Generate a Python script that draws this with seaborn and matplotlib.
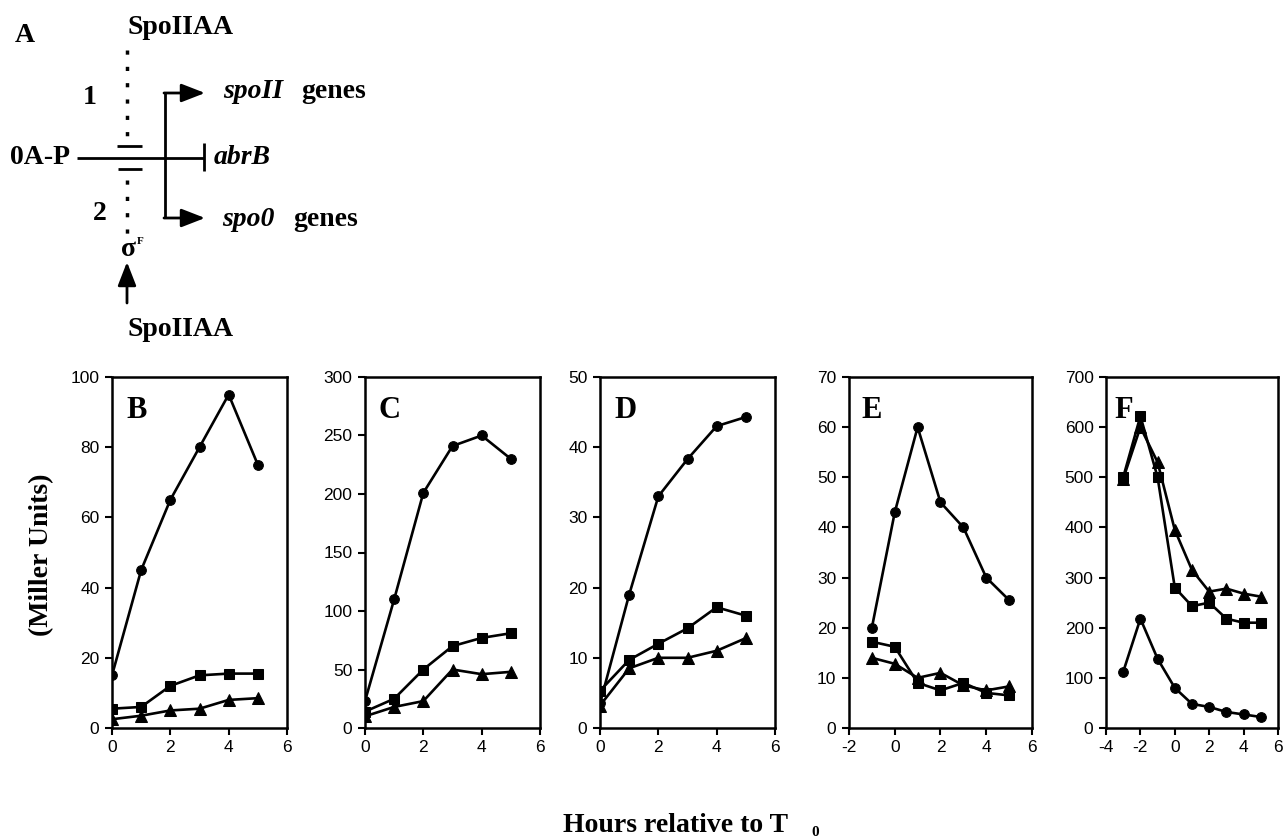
import numpy as np
import matplotlib
matplotlib.use("Agg")
import matplotlib.pyplot as plt
import seaborn as sns

# time points (hours relative to T0)
hours = [0, 1, 2, 3, 4, 5]
hours_e = [-1, 0, 1, 2, 3, 4, 5]
hours_f = [-3, -2, -1, 0, 1, 2, 3, 4, 5]

# panel B
b_circles = [15, 45, 65, 80, 95, 75]
b_squares = [5.5, 6, 12, 15, 15.5, 15.5]
b_triangles = [2.5, 3.5, 5, 5.5, 8, 8.5]

# panel C
c_circles = [23, 110, 201, 241, 250, 230]
c_squares = [14, 25, 50, 70, 77, 81]
c_triangles = [10, 18, 23, 50, 46, 48]

# panel D
d_circles = [3.5, 19, 33, 38.3, 43, 44.3]
d_squares = [5.3, 9.7, 12, 14.2, 17.2, 16]
d_triangles = [3.2, 8.5, 10, 10, 11, 12.8]

# panel E
e_circles = [20, 43, 60, 45, 40, 30, 25.5]
e_squares = [17.2, 16.2, 9, 7.5, 9, 7, 6.5]
e_triangles = [14, 12.8, 10, 11, 8.5, 7.5, 8.3]

# panel F
f_circles = [112, 218, 138, 80, 48, 42, 32, 27, 22]
f_squares = [500, 622, 500, 280, 243, 250, 218, 210, 210]
f_triangles = [497, 600, 530, 395, 315, 272, 278, 268, 262]

sns.set_style("ticks")
plt.rcParams['axes.unicode_minus'] = False
plt.rcParams['font.family'] = ['Liberation Sans', 'DejaVu Sans']
for key in ['text.color', 'axes.labelcolor', 'xtick.color', 'ytick.color', 'axes.edgecolor']:
    plt.rcParams[key] = 'black'

W, H = 1286, 840
fig = plt.figure(figsize=(W / 100, H / 100), dpi=100)
serif = ['Liberation Serif', 'DejaVu Serif']


def px_rect(left, right, top, bottom):
    return [left / W, 1 - bottom / H, (right - left) / W, (bottom - top) / H]


def draw_panel(rect, letter, x, circles, squares, triangles, ymax, ystep, xlim, lx=0.08):
    ax = fig.add_axes(rect)
    for y, m, ms in [(circles, 'o', 7), (squares, 's', 7), (triangles, '^', 8.5)]:
        sns.lineplot(x=x, y=y, ax=ax, color='black', marker=m, markersize=ms,
                     markeredgecolor='black', linewidth=1.9)
    ax.set_xlim(*xlim)
    ax.set_ylim(0, ymax)
    ax.set_xticks(np.arange(xlim[0], xlim[1] + 1, 2))
    ax.set_yticks(np.arange(0, ymax + 1, ystep))
    ax.tick_params(direction='out', length=5, width=1.5, labelsize=12.5, pad=4)
    for s in ax.spines.values():
        s.set_visible(True)
        s.set_linewidth(1.8)
    ax.text(lx, 0.945, letter, transform=ax.transAxes, fontsize=22,
            family=serif, weight='bold', va='top', ha='left')
    return ax


draw_panel(px_rect(112, 287, 377, 728), 'B', hours, b_circles, b_squares, b_triangles, 100, 20, (0, 6))
draw_panel(px_rect(365, 540, 377, 728), 'C', hours, c_circles, c_squares, c_triangles, 300, 50, (0, 6))
draw_panel(px_rect(600, 775, 377, 728), 'D', hours, d_circles, d_squares, d_triangles, 50, 10, (0, 6))
draw_panel(px_rect(849, 1032, 377, 728), 'E', hours_e, e_circles, e_squares, e_triangles, 70, 10, (-2, 6), lx=0.07)
draw_panel(px_rect(1106, 1278, 377, 728), 'F', hours_f, f_circles, f_squares, f_triangles, 700, 100, (-4, 6), lx=0.05)

# shared labels
fig.text(42 / W, 1 - 555 / H, '(Miller Units)', rotation=90, fontsize=20,
         family=serif, weight='bold', ha='center', va='center')
fig.text(675 / W, 1 - 825 / H, 'Hours relative to T', fontsize=20,
         family=serif, weight='bold', ha='center', va='center')
fig.text(815 / W, 1 - 832 / H, '0', fontsize=11, family=serif, weight='bold',
         ha='center', va='center')

# panel A: regulatory diagram drawn in pixel space
ax0 = fig.add_axes([0, 0, 1, 1], zorder=-1)
ax0.set_xlim(0, W)
ax0.set_ylim(H, 0)
ax0.axis('off')

txt = dict(family=serif, weight='bold', fontsize=20, va='center')
ax0.text(15, 36, 'A', ha='left', **txt)
ax0.text(181, 27, 'SpoIIAA', ha='center', **txt)
ax0.text(181, 330, 'SpoIIAA', ha='center', **txt)
ax0.text(90, 97, '1', ha='center', **txt)
ax0.text(100, 214, '2', ha='center', **txt)
ax0.text(40, 158, '0A-P', ha='center', **txt)
ax0.text(214, 157, 'abrB', ha='left', style='italic', **txt)
ax0.text(223, 92, 'spoII', ha='left', style='italic', **txt)
ax0.text(301, 92, 'genes', ha='left', **txt)
ax0.text(222, 220, 'spo0', ha='left', style='italic', **txt)
ax0.text(293, 220, 'genes', ha='left', **txt)
ax0.text(128, 250, 'σ', ha='center', family=serif, weight='bold', fontsize=20, va='center')
ax0.text(140, 242, 'F', ha='center', family=serif, weight='bold', fontsize=8, va='center')

k = dict(color='black', lw=2, solid_capstyle='butt')
ax0.plot([127, 127], [50, 136], linestyle=(0, (1.2, 3.5)), color='black', lw=2.5)
ax0.plot([127, 127], [180, 236], linestyle=(0, (1.2, 3.5)), color='black', lw=2.5)
ax0.plot([117, 142], [146, 146], **k)
ax0.plot([118, 142], [169, 169], **k)
ax0.plot([77, 204], [158, 158], **k)
ax0.plot([204, 204], [143, 171], **k)
ax0.plot([165, 165], [93, 218], **k)
arrow = dict(arrowstyle='-|>,head_length=0.9,head_width=0.35', color='black', lw=2,
             mutation_scale=16, shrinkA=0, shrinkB=0)
ax0.annotate('', xy=(205, 93), xytext=(164, 93), arrowprops=arrow)
ax0.annotate('', xy=(205, 218), xytext=(164, 218), arrowprops=arrow)
ax0.annotate('', xy=(127, 262), xytext=(127, 303), arrowprops=arrow)

plt.savefig('out.png', dpi=100)
